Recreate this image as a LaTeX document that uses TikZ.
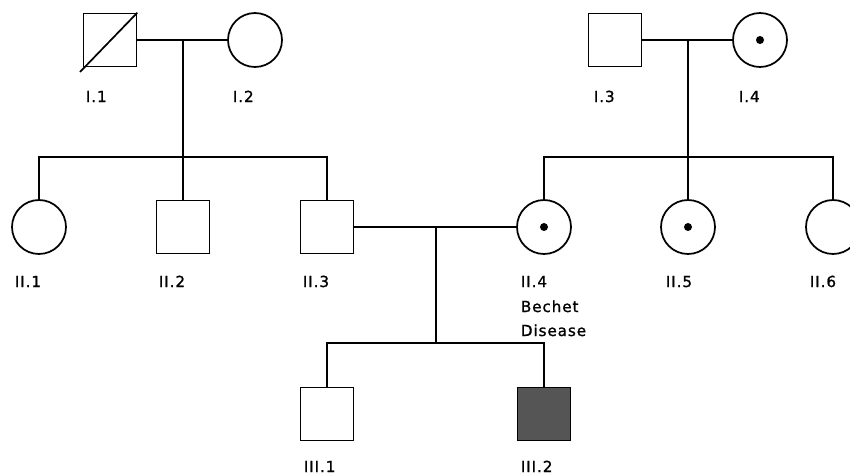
\documentclass[tikz,border=0pt]{standalone}
\usepackage{fontspec}
\setmainfont{DejaVu Sans}[LetterSpace=6, FakeBold=1.2]
\definecolor{affected}{HTML}{555555}
\tikzset{
  male/.style={draw, rectangle, minimum size=39.75pt, inner sep=0pt},
  female/.style={draw, circle, minimum size=40.5pt, inner sep=0pt},
  aff/.style={fill=affected},
  lbl/.style={anchor=base west, inner sep=0pt, font=\fontsize{11.4pt}{15pt}\selectfont, align=left},
  dotmark/.style={circle, fill=black, inner sep=0pt, minimum size=6pt}
}
\begin{document}
\begin{tikzpicture}[x=0.75pt, y=-0.75pt, line width=1.3pt]
\useasboundingbox (0,0) rectangle (850,475);
% generation I
\node[male] (i1) at (110,40) {};
\node[female] (i2) at (255,40) {};
\node[male] (i3) at (615,40) {};
\node[female] (i4) at (760,40) {};
\node[dotmark] (d4) at (i4) {};
% generation II
\node[female] (ii1) at (39,227) {};
\node[male] (ii2) at (183,227) {};
\node[male] (ii3) at (327,227) {};
\node[female] (ii4) at (544,227) {};
\node[dotmark] (dii4) at (ii4) {};
\node[female] (ii5) at (688,227) {};
\node[dotmark] (dii5) at (ii5) {};
\node[female] (ii6) at (833,227) {};
% generation III
\node[male] (iii1) at (327,414) {};
\node[male, aff] (iii2) at (544,414) {};
% deceased mark
\coordinate (dg) at (80,72);
\draw (dg) -- (i1.north east);
% coordinates
\coordinate (m1) at (183,41);
\coordinate (s1) at (183,157);
\coordinate (m2) at (688,41);
\coordinate (s2) at (688,157);
\coordinate (m3) at (436,228);
\coordinate (s3) at (436,343);
% family 1
\draw (i1.east) -- (i2.west);
\draw (m1) -- (s1);
\draw (ii1.north) |- (s1) -| (ii3.north);
\draw (s1) -- (ii2.north);
% family 2
\draw (i3.east) -- (i4.west);
\draw (m2) -- (s2);
\draw (ii4.north) |- (s2) -| (ii6.north);
\draw (s2) -- (ii5.north);
% family 3
\draw (ii3.east) -- (ii4.west);
\draw (m3) -- (s3);
\draw (iii1.north) |- (s3) -| (iii2.north);
% labels
\node[lbl] (li1) at (85,102) {I.1};
\node[lbl] (li2) at (232,102) {I.2};
\node[lbl] (li3) at (593,102) {I.3};
\node[lbl] (li4) at (738,102) {I.4};
\node[lbl] (lii1) at (14,287) {II.1};
\node[lbl] (lii2) at (158,287) {II.2};
\node[lbl] (lii3) at (302,287) {II.3};
\node[lbl] (lii4) at (520,287) {II.4};
\node[lbl] (lb) at (520,312) {Bechet};
\node[lbl] (ld) at (520,336) {Disease};
\node[lbl] (lii5) at (665,287) {II.5};
\node[lbl] (lii6) at (809,287) {II.6};
\node[lbl] (liii1) at (303,472) {III.1};
\node[lbl] (liii2) at (520,472) {III.2};
\end{tikzpicture}
\end{document}
